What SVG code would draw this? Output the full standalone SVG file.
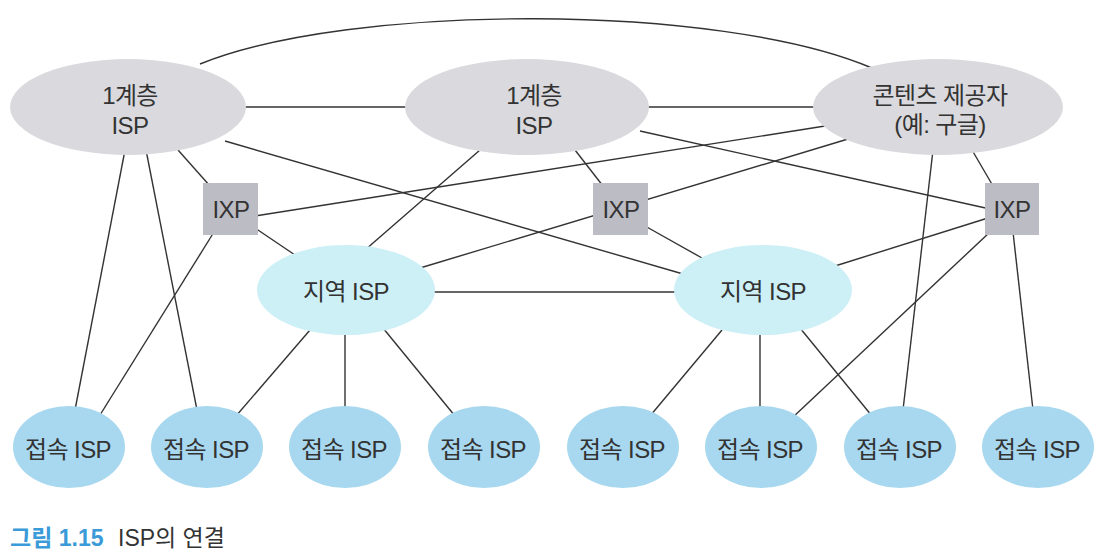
<svg xmlns="http://www.w3.org/2000/svg" width="1108" height="558" viewBox="0 0 1108 558">
<style>
.t{font-family:"Liberation Sans","Noto Sans CJK KR",sans-serif;font-size:24px;fill:#333;text-anchor:middle;letter-spacing:-0.6px}
.tier{fill:#d9d9de}
.ixp{fill:#bcbcc4}
.reg{fill:#cdf0f6}
.acc{fill:#a8d8ef}
.c{stroke:#333;stroke-width:1.4;fill:none}
.cap{font-family:"Liberation Sans","Noto Sans CJK KR",sans-serif;font-size:23px}
</style>
<rect width="1108" height="558" fill="#fff"/>
<g id="connectors" class="c">
<path d="M200,64 C350,3 720,3 872,68"/>
<path d="M240,107 H415"/>
<path d="M640,107 H820"/>
<path d="M178,150 L210,186"/>
<path d="M225,141 L690,276"/>
<path d="M125,150 L75,410"/>
<path d="M146,150 L197,410"/>
<path d="M214,232 L100,415"/>
<path d="M255,228 L295,255"/>
<path d="M255,216 L825,126"/>
<path d="M480,150 L365,250"/>
<path d="M420,268 L848,139"/>
<path d="M575,150 L603,186"/>
<path d="M640,131 L990,209"/>
<path d="M645,226 L702,258"/>
<path d="M972,150 L993,186"/>
<path d="M933,150 L903,410"/>
<path d="M988,218 L835,266"/>
<path d="M990,232 L792,418"/>
<path d="M1013,232 L1033,410"/>
<path d="M430,292 H680"/>
<path d="M310,330 L236,416"/>
<path d="M345,330 V410"/>
<path d="M383,328 L455,416"/>
<path d="M722,330 L650,416"/>
<path d="M760,330 V410"/>
<path d="M800,328 L872,416"/>
</g>
<g id="tier1-left"><ellipse class="tier" cx="128" cy="107" rx="118" ry="48"/><text class="t" x="130" y="104">1계층</text><text class="t" x="130" y="134">ISP</text></g>
<g id="tier1-mid"><ellipse class="tier" cx="527" cy="107" rx="122" ry="48"/><text class="t" x="534" y="104">1계층</text><text class="t" x="534" y="134">ISP</text></g>
<g id="content-provider"><ellipse class="tier" cx="938" cy="107" rx="125" ry="48"/><text class="t" x="940" y="104">콘텐츠 제공자</text><text class="t" x="940" y="133">(예: 구글)</text></g>
<g id="ixp-left"><rect class="ixp" x="203" y="183" width="55" height="52"/><text class="t" x="231" y="218">IXP</text></g>
<g id="ixp-mid"><rect class="ixp" x="593" y="183" width="55" height="52"/><text class="t" x="621" y="218">IXP</text></g>
<g id="ixp-right"><rect class="ixp" x="985" y="183" width="54" height="52"/><text class="t" x="1012" y="218">IXP</text></g>
<g id="regional-left"><ellipse class="reg" cx="346" cy="290" rx="89" ry="45"/><text class="t" x="346" y="300">지역 ISP</text></g>
<g id="regional-right"><ellipse class="reg" cx="763" cy="290" rx="89" ry="45"/><text class="t" x="763" y="300">지역 ISP</text></g>
<g id="access-1"><ellipse class="acc" cx="69" cy="447" rx="56" ry="41"/><text class="t" x="68" y="458">접속 ISP</text></g>
<g id="access-2"><ellipse class="acc" cx="207" cy="447" rx="56" ry="41"/><text class="t" x="206" y="458">접속 ISP</text></g>
<g id="access-3"><ellipse class="acc" cx="345" cy="447" rx="56" ry="41"/><text class="t" x="344" y="458">접속 ISP</text></g>
<g id="access-4"><ellipse class="acc" cx="484" cy="447" rx="56" ry="41"/><text class="t" x="483" y="458">접속 ISP</text></g>
<g id="access-5"><ellipse class="acc" cx="623" cy="447" rx="56" ry="41"/><text class="t" x="622" y="458">접속 ISP</text></g>
<g id="access-6"><ellipse class="acc" cx="761" cy="447" rx="56" ry="41"/><text class="t" x="760" y="458">접속 ISP</text></g>
<g id="access-7"><ellipse class="acc" cx="900" cy="447" rx="56" ry="41"/><text class="t" x="899" y="458">접속 ISP</text></g>
<g id="access-8"><ellipse class="acc" cx="1038" cy="447" rx="56" ry="41"/><text class="t" x="1037" y="458">접속 ISP</text></g>
<g id="caption">
<text class="cap" x="10" y="546" fill="#3b9ad8" font-weight="bold">그림 1.15</text>
<text class="cap" x="118" y="546" fill="#333">ISP의 연결</text>
</g>
</svg>
